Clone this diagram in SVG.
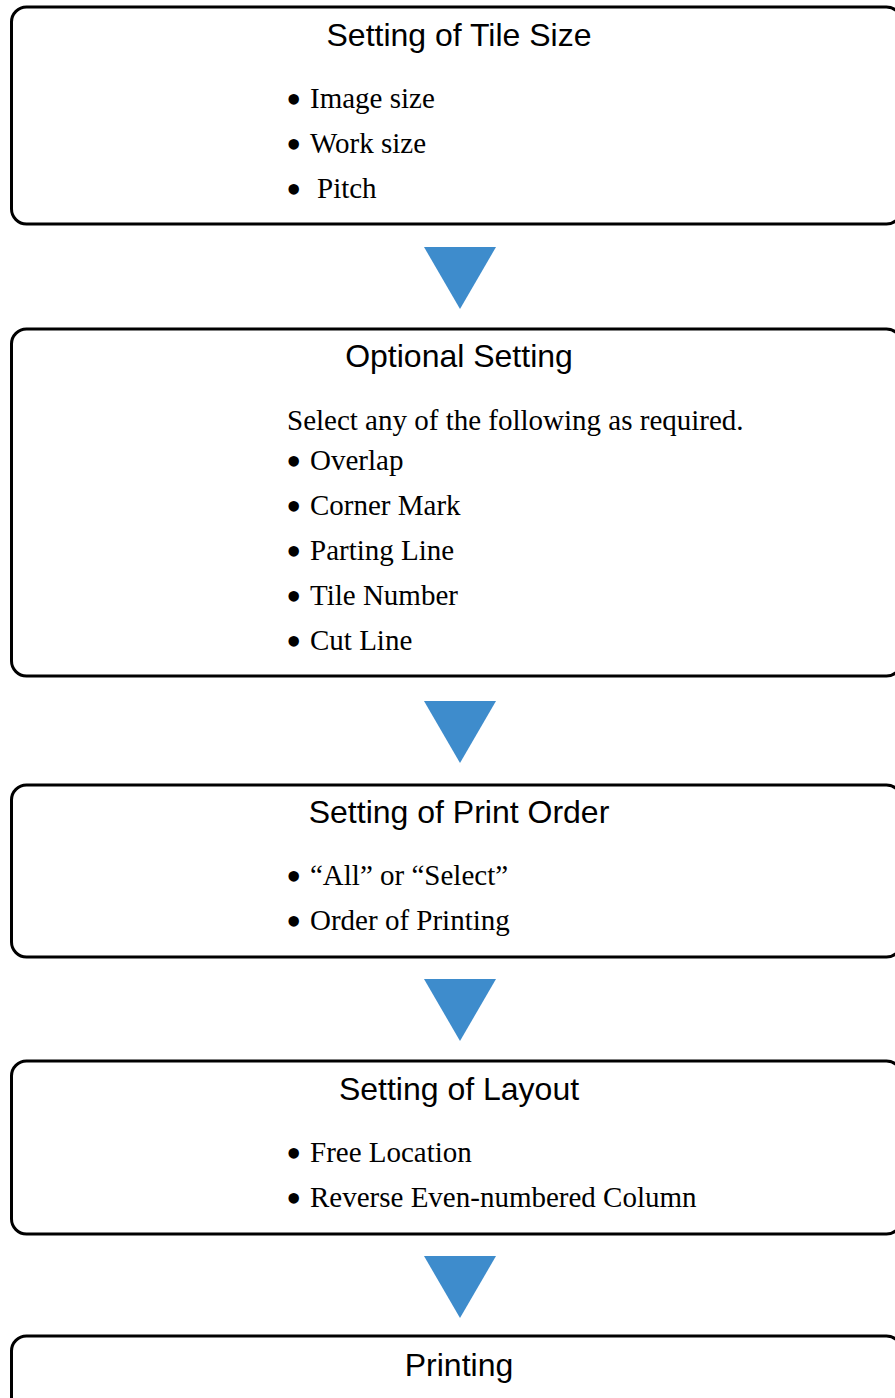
<svg xmlns="http://www.w3.org/2000/svg" width="895" height="1398" viewBox="0 0 895 1398">
<style>
.box{fill:#ffffff;stroke:#000000;stroke-width:3}
.title{font-family:"Liberation Sans",Arial,sans-serif;font-size:32px;fill:#000;text-anchor:middle}
.item{font-family:"Liberation Serif","Times New Roman",serif;font-size:29px;fill:#000}
.bul{font-family:"Liberation Serif","Times New Roman",serif;font-size:44px;fill:#000}
.arrow{fill:#3e8ccc}
</style>
<rect x="0" y="0" width="895" height="1398" fill="#ffffff"/>
<g id="node-tile-size">
<rect class="box" x="11.5" y="7" width="890" height="217" rx="15"/>
<text class="title" x="459" y="46">Setting of Tile Size</text>
<text class="bul" x="286" y="114">•</text><text class="item" x="310" y="108">Image size</text>
<text class="bul" x="286" y="159">•</text><text class="item" x="310" y="153">Work size</text>
<text class="bul" x="286" y="204">•</text><text class="item" x="317" y="198">Pitch</text>
</g>
<g id="node-optional">
<rect class="box" x="11.5" y="329" width="890" height="347" rx="15"/>
<text class="title" x="459" y="367">Optional Setting</text>
<text class="item" x="287" y="430">Select any of the following as required.</text>
<text class="bul" x="286" y="476">•</text><text class="item" x="310" y="470">Overlap</text>
<text class="bul" x="286" y="521">•</text><text class="item" x="310" y="515">Corner Mark</text>
<text class="bul" x="286" y="566">•</text><text class="item" x="310" y="560">Parting Line</text>
<text class="bul" x="286" y="611">•</text><text class="item" x="310" y="605">Tile Number</text>
<text class="bul" x="286" y="656">•</text><text class="item" x="310" y="650">Cut Line</text>
</g>
<g id="node-print-order">
<rect class="box" x="11.5" y="785" width="890" height="172" rx="15"/>
<text class="title" x="459" y="823">Setting of Print Order</text>
<text class="bul" x="286" y="891">•</text><text class="item" x="310" y="885">“All” or “Select”</text>
<text class="bul" x="286" y="936">•</text><text class="item" x="310" y="930">Order of Printing</text>
</g>
<g id="node-layout">
<rect class="box" x="11.5" y="1061" width="890" height="173" rx="15"/>
<text class="title" x="459" y="1100">Setting of Layout</text>
<text class="bul" x="286" y="1168">•</text><text class="item" x="310" y="1162">Free Location</text>
<text class="bul" x="286" y="1213">•</text><text class="item" x="310" y="1207">Reverse Even-numbered Column</text>
</g>
<g id="node-printing">
<rect class="box" x="11.5" y="1336" width="890" height="100" rx="15"/>
<text class="title" x="459" y="1376">Printing</text>
</g>
<g id="connectors">
<polygon class="arrow" points="424,247 496,247 460,309"/>
<polygon class="arrow" points="424,701 496,701 460,763"/>
<polygon class="arrow" points="424,979 496,979 460,1041"/>
<polygon class="arrow" points="424,1256 496,1256 460,1318"/>
</g>
</svg>
